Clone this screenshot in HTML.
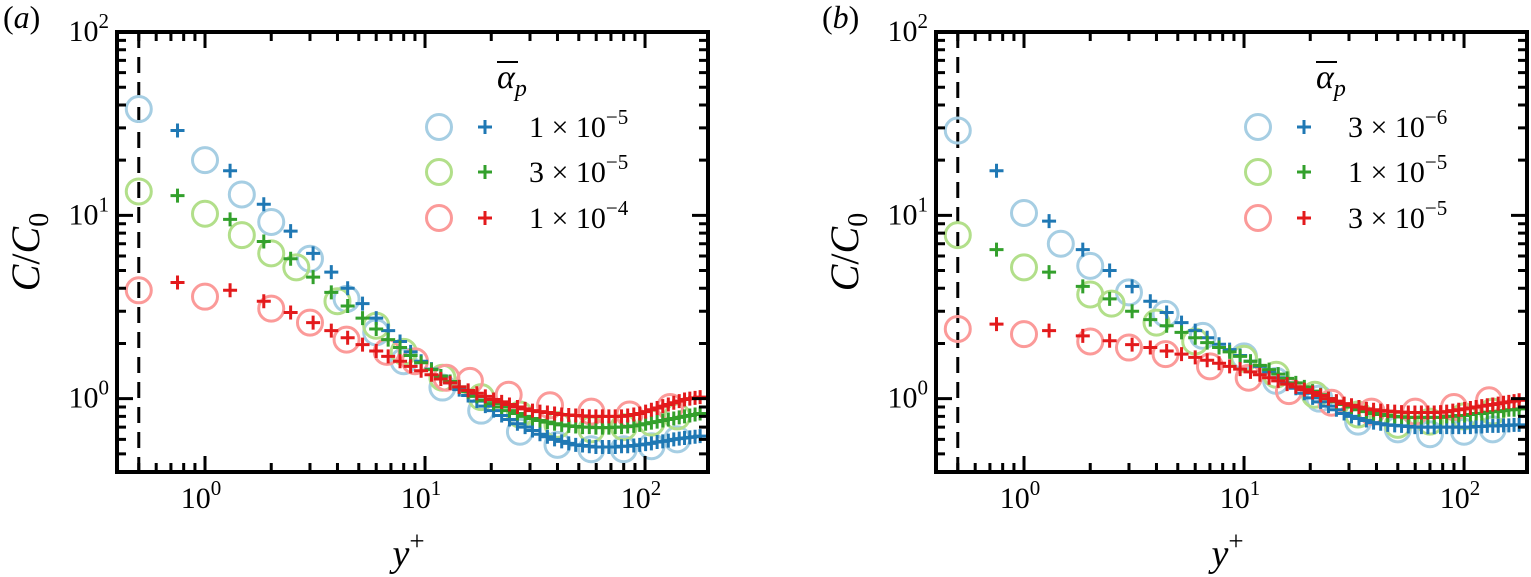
<!DOCTYPE html>
<html><head><meta charset="utf-8"><style>
body{margin:0;background:#fff;}
svg{display:block;font-family:"Liberation Serif","DejaVu Serif",serif;}
text{font-family:"Liberation Serif","DejaVu Serif",serif;}
</style></head><body>
<svg id="fig" width="1531" height="577" viewBox="0 0 1531 577"></svg>
<script>
const crossX=[0.75,1.3,1.85,2.45,3.1,3.75,4.45,5.2,6,6.8,7.7,8.6,9.6,10.7,11.8,13,14.3,15.7,17.2,18.8,20.5,22.3,24.2,26.3,28.5,30.8,33.3,36,38.8,41.8,45,48.4,52,55.8,59.8,64,68.5,73.2,78.2,83.4,88.9,94.6,100.6,106.9,113.5,120.4,127.6,135.1,143,151.2,159.8,168.8,178];
const aBlueCross=[29,17.5,11.5,8.2,6.2,4.9,4.0,3.3,2.75,2.35,2.05,1.8,1.6,1.45,1.33,1.22,1.12,1.04,0.97,0.91,0.86,0.81,0.77,0.73,0.7,0.67,0.64,0.62,0.6,0.585,0.57,0.56,0.555,0.55,0.545,0.545,0.545,0.545,0.55,0.55,0.555,0.56,0.565,0.57,0.58,0.585,0.59,0.6,0.605,0.61,0.615,0.62,0.625];
const aGreenCross=[12.8,9.5,7.2,5.8,4.6,3.8,3.2,2.75,2.4,2.1,1.9,1.72,1.57,1.44,1.33,1.24,1.16,1.09,1.03,0.98,0.94,0.9,0.86,0.83,0.8,0.78,0.76,0.745,0.73,0.72,0.71,0.705,0.7,0.7,0.695,0.695,0.695,0.7,0.7,0.705,0.71,0.72,0.73,0.74,0.75,0.76,0.77,0.78,0.79,0.8,0.81,0.82,0.83];
const aRedCross=[4.3,3.9,3.4,2.95,2.6,2.35,2.15,1.97,1.82,1.7,1.6,1.5,1.42,1.35,1.28,1.22,1.16,1.11,1.07,1.03,0.99,0.96,0.93,0.9,0.88,0.86,0.85,0.84,0.83,0.82,0.815,0.81,0.805,0.8,0.8,0.8,0.8,0.8,0.8,0.81,0.82,0.83,0.85,0.87,0.89,0.91,0.93,0.95,0.97,0.99,1.0,1.01,1.02];
const aBlueCircX=[0.5,1,1.47,2,3,4.4,6,8,12,18,27,40,57,80,107,140];
const aBlueCirc=[38,20,13,9.2,5.8,3.5,2.3,1.6,1.15,0.86,0.66,0.56,0.53,0.53,0.55,0.6];
const aGreenCircX=[0.5,1,1.47,2,2.6,4,6,8,12,18,27,40,57,80,107,140];
const aGreenCirc=[13.5,10.2,7.8,6.2,5.2,3.4,2.5,1.8,1.3,1.02,0.82,0.72,0.68,0.7,0.74,0.8];
const aRedCircX=[0.5,1,2,3,4.4,6.7,9,12.5,16,24,37,57,85,130];
const aRedCirc=[3.9,3.6,3.1,2.6,2.1,1.8,1.6,1.3,1.25,1.05,0.92,0.85,0.82,0.9];
const bBlueCross=[17.5,9.3,6.5,5.0,4.1,3.4,2.95,2.6,2.35,2.15,1.98,1.85,1.72,1.6,1.5,1.4,1.3,1.22,1.14,1.07,1.01,0.96,0.91,0.87,0.83,0.8,0.78,0.76,0.74,0.73,0.72,0.715,0.71,0.705,0.7,0.7,0.7,0.7,0.7,0.7,0.7,0.7,0.7,0.7,0.705,0.705,0.71,0.71,0.71,0.715,0.715,0.72,0.72];
const bGreenCross=[6.5,4.9,4.1,3.5,3.0,2.7,2.5,2.3,2.15,2.02,1.9,1.8,1.7,1.6,1.52,1.44,1.36,1.29,1.22,1.16,1.1,1.05,1.0,0.96,0.93,0.9,0.87,0.85,0.83,0.82,0.81,0.8,0.795,0.79,0.79,0.79,0.79,0.79,0.79,0.8,0.8,0.81,0.81,0.82,0.83,0.83,0.84,0.85,0.85,0.86,0.87,0.87,0.88];
const bRedCross=[2.55,2.35,2.2,2.07,1.97,1.9,1.82,1.75,1.68,1.62,1.56,1.5,1.45,1.4,1.35,1.3,1.25,1.2,1.16,1.12,1.08,1.04,1.0,0.97,0.94,0.92,0.9,0.88,0.87,0.86,0.855,0.85,0.845,0.84,0.84,0.84,0.84,0.84,0.845,0.85,0.86,0.87,0.88,0.89,0.9,0.91,0.92,0.93,0.94,0.95,0.96,0.97,0.98];
const bBlueCircX=[0.5,1,1.47,2,3,4.4,6.5,10,14,22,33,50,70,100,135];
const bBlueCirc=[29,10.3,7,5.3,3.8,2.9,2.2,1.7,1.25,1.0,0.75,0.68,0.64,0.66,0.68];
const bGreenCircX=[0.5,1,2,2.5,4,6,10,14,21,33,50,70,100,135];
const bGreenCirc=[7.8,5.2,3.7,3.3,2.6,2.05,1.65,1.35,1.05,0.82,0.72,0.75,0.8,0.85];
const bRedCircX=[0.5,1,2,3,4.4,7,10.5,16,25,38,60,90,130];
const bRedCirc=[2.4,2.25,2.05,1.9,1.75,1.5,1.3,1.1,0.95,0.85,0.85,0.9,0.98];
const aLegend=["1 × 10","3 × 10","1 × 10"], aExp=["−5","−5","−4"];
const bLegend=["3 × 10","1 × 10","3 × 10"], bExp=["−6","−5","−5"];

const NS="http://www.w3.org/2000/svg";
const FF='"Liberation Serif","DejaVu Serif",serif';
const svg=document.getElementById('fig');
function mk(tag,attrs,parent){const e=document.createElementNS(NS,tag);for(const k in attrs)e.setAttribute(k,attrs[k]);if(tag==='text')e.setAttribute('font-family',FF);(parent||svg).appendChild(e);return e;}
const C={blue:'#1f78b4',green:'#33a02c',red:'#e31a1c',lblue:'#a6cee3',lgreen:'#b2df8a',lred:'#fb9a99'};

function panel(L,tag,series,legTxt,legExp){
  const T=32,B=472,W=591,R=L+W;
  const X=v=>L+(Math.log10(v)+0.4)/2.6862*W;
  const Y=v=>B-(Math.log10(v)+0.4)/2.4*(B-T);
  const g=mk('g',{});
  
  
  const d=mk('line',{x1:X(0.5),x2:X(0.5),y1:T,y2:B,stroke:'#000','stroke-width':3,'stroke-dasharray':'16,9'},g);
  
  
  series.forEach(s=>{
    const sg=mk('g',{},g);
    
    
    s.xs.forEach((x,i)=>{
      const px=X(x),py=Y(s.ys[i]);
      if(s.type==='c'){
        const c=mk('circle',{cx:px,cy:py,r:12.5,fill:'none',stroke:s.col,'stroke-width':3},sg);
        
        
      }else{
        const p=mk('path',{d:`M${px-7} ${py}H${px+7}M${px} ${py-7}V${py+7}`,stroke:s.col,'stroke-width':3},sg);
        
        
      }
    });
  });
  const f=mk('rect',{x:L,y:T,width:W,height:B-T,fill:'none',stroke:'#000','stroke-width':4},g);
  
  
  for(let e=-1;e<=2;e++)for(let m=1;m<10;m++){
    const v=m*Math.pow(10,e); if(v<0.4||v>195)continue;
    const px=X(v),len=m===1?16:9;
    mk('path',{d:`M${px} ${B}v${-len}M${px} ${T}v${len}`,stroke:'#000','stroke-width':3},g);
    if(m===1){
      const t=mk('text',{x:px-4,y:B+36,'font-size':30,'text-anchor':'middle'},g);
      
      
      t.innerHTML='10<tspan dy="-13" font-size="21">'+e+'</tspan>';
    }
  }
  for(let e=-1;e<=2;e++)for(let m=1;m<10;m++){
    const v=m*Math.pow(10,e); if(v<0.4||v>100.1)continue;
    const py=Y(v),len=m===1?16:9;
    mk('path',{d:`M${L} ${py}h${len}M${R} ${py}h${-len}`,stroke:'#000','stroke-width':3},g);
    if(m===1){
      const t=mk('text',{x:L-8,y:py+9,'font-size':30,'text-anchor':'end'},g);
      
      
      t.innerHTML='10<tspan dy="-13" font-size="21">'+e+'</tspan>';
    }
  }
  const xl=mk('text',{x:L+W/2-20,y:566,'font-size':38,'font-style':'italic'},g);
  
  
  xl.innerHTML='y<tspan dy="-16" font-size="27" font-style="normal">+</tspan>';
  const yl=mk('text',{transform:`translate(${L-78},${(T+B)/2}) rotate(-90)`,'font-size':40,'text-anchor':'middle','font-style':'italic'},g);
  
  
  yl.innerHTML='C<tspan font-style="normal">/</tspan>C<tspan dy="9" font-size="28" font-style="normal">0</tspan>';
  const pl=mk('text',{x:L-114,y:28,'font-size':32,'font-style':'italic'},g);
  
  
  pl.innerHTML='<tspan font-style="normal">(</tspan>'+tag+'<tspan font-style="normal">)</tspan>';
  const lg=mk('g',{},g);
  
  
  const lt=mk('text',{x:L+380,y:88,'font-size':34,'font-style':'italic'},lg);
  
  
  lt.innerHTML='α<tspan dy="8" font-size="24">p</tspan>';
  mk('line',{x1:L+380,x2:L+401,y1:62,y2:62,stroke:'#000','stroke-width':2},lg);
  const cols=[[C.lblue,C.blue],[C.lgreen,C.green],[C.lred,C.red]];
  [127,172,218].forEach((y,i)=>{
    const en=mk('g',{},lg);
    
    
    mk('circle',{cx:L+322,cy:y,r:12.5,fill:'none',stroke:cols[i][0],'stroke-width':3},en);
    mk('path',{d:`M${L+361} ${y}h14M${L+368} ${y-7}v14`,stroke:cols[i][1],'stroke-width':3},en);
    const t=mk('text',{x:L+412,y:y+10,'font-size':30},en);
    t.innerHTML=legTxt[i]+'<tspan dy="-13" font-size="21">'+legExp[i]+'</tspan>';
  });
}
panel(117,'a',[
 {name:'series-a1-circles',type:'c',col:C.lblue,xs:aBlueCircX,ys:aBlueCirc},
 {name:'series-a2-circles',type:'c',col:C.lgreen,xs:aGreenCircX,ys:aGreenCirc},
 {name:'series-a3-circles',type:'c',col:C.lred,xs:aRedCircX,ys:aRedCirc},
 {name:'series-a1-crosses',type:'x',col:C.blue,xs:crossX,ys:aBlueCross},
 {name:'series-a2-crosses',type:'x',col:C.green,xs:crossX,ys:aGreenCross},
 {name:'series-a3-crosses',type:'x',col:C.red,xs:crossX,ys:aRedCross}],aLegend,aExp);
panel(936,'b',[
 {name:'series-b1-circles',type:'c',col:C.lblue,xs:bBlueCircX,ys:bBlueCirc},
 {name:'series-b2-circles',type:'c',col:C.lgreen,xs:bGreenCircX,ys:bGreenCirc},
 {name:'series-b3-circles',type:'c',col:C.lred,xs:bRedCircX,ys:bRedCirc},
 {name:'series-b1-crosses',type:'x',col:C.blue,xs:crossX,ys:bBlueCross},
 {name:'series-b2-crosses',type:'x',col:C.green,xs:crossX,ys:bGreenCross},
 {name:'series-b3-crosses',type:'x',col:C.red,xs:crossX,ys:bRedCross}],bLegend,bExp);
</script>
</body></html>
